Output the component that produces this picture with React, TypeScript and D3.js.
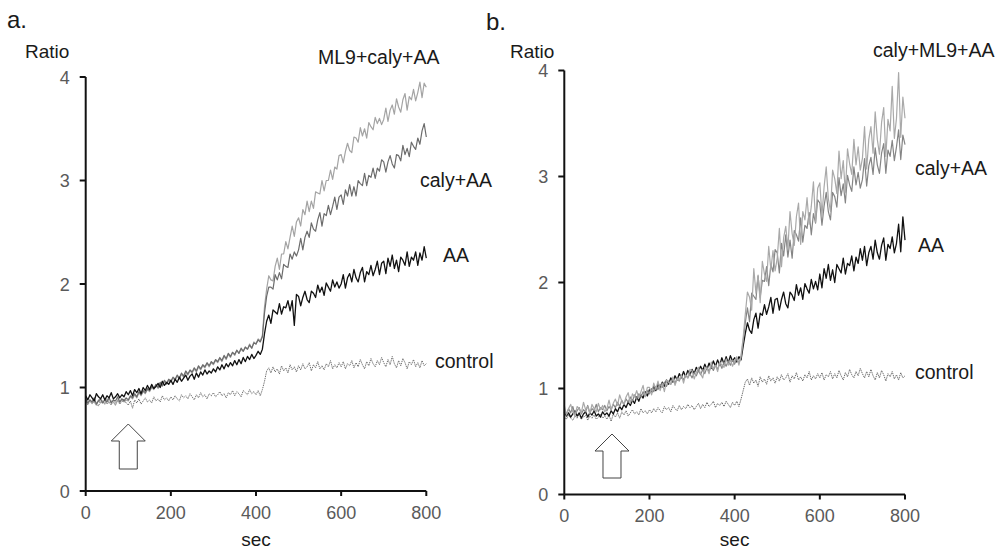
import React from 'react';
import * as d3 from 'd3';

// ---------- data (ratio sampled every 5 s, 0..800 s) ----------
const T_STEP = 5;
const xTicks = [0, 200, 400, 600, 800];
const yTicks = [0, 1, 2, 3, 4];

// Panel a
const aControl = [
  0.86, 0.83, 0.87, 0.84, 0.88, 0.85, 0.82, 0.87, 0.85, 0.89, 0.84, 0.86, 0.83, 0.88, 0.85, 0.87, 0.84, 0.86, 0.89, 0.85,
  0.83, 0.87, 0.80, 0.88, 0.85, 0.89, 0.84, 0.87, 0.90, 0.86, 0.88, 0.85, 0.91, 0.87, 0.89, 0.86, 0.92, 0.88, 0.90, 0.87,
  0.91, 0.88, 0.92, 0.89, 0.87, 0.93, 0.90, 0.92, 0.89, 0.94, 0.91, 0.88, 0.93, 0.90, 0.95, 0.91, 0.93, 0.89, 0.94, 0.92,
  0.95, 0.91, 0.93, 0.96, 0.92, 0.94, 0.90, 0.95, 0.93, 0.97, 0.92, 0.96, 0.94, 0.91, 0.97, 0.95, 0.93, 0.98, 0.94, 0.96,
  0.93, 0.97, 0.92, 0.98, 1.06, 1.16, 1.19, 1.14, 1.20, 1.15, 1.18, 1.13, 1.21, 1.16, 1.19, 1.14, 1.22, 1.17, 1.20, 1.15,
  1.21, 1.17, 1.23, 1.18, 1.20, 1.24, 1.16, 1.22, 1.19, 1.25, 1.18, 1.21, 1.17, 1.23, 1.20, 1.26, 1.18, 1.22, 1.19, 1.24,
  1.20, 1.25, 1.18, 1.23, 1.21, 1.26, 1.19, 1.24, 1.20, 1.27, 1.22, 1.18, 1.25, 1.21, 1.28, 1.23, 1.20, 1.26, 1.22, 1.29,
  1.24, 1.20, 1.27, 1.22, 1.30, 1.23, 1.19, 1.26, 1.21, 1.28, 1.24, 1.18, 1.25, 1.22, 1.27, 1.20, 1.24, 1.19, 1.26, 1.21,
  1.23,
];
const aAA = [
  0.92, 0.88, 0.93, 0.90, 0.87, 0.94, 0.91, 0.89, 0.93, 0.88, 0.92, 0.90, 0.95, 0.89, 0.91, 0.94, 0.90, 0.93, 0.91, 0.96,
  0.93, 0.97, 0.92, 0.98, 0.95, 0.99, 0.94, 1.00, 0.97, 1.02, 0.98, 1.03, 0.99, 1.01, 1.04, 1.00, 1.06, 1.02, 1.05, 1.03,
  1.07, 1.03, 1.08, 1.05, 1.10, 1.06, 1.09, 1.12, 1.07, 1.11, 1.13, 1.08, 1.14, 1.10, 1.15, 1.12, 1.17, 1.13, 1.16, 1.14,
  1.18, 1.15, 1.20, 1.17, 1.22, 1.18, 1.23, 1.20, 1.24, 1.21, 1.26, 1.22, 1.27, 1.23, 1.29, 1.25, 1.30, 1.27, 1.32, 1.28,
  1.31, 1.35, 1.32, 1.37, 1.52, 1.64, 1.70, 1.62, 1.75, 1.73, 1.71, 1.81, 1.71, 1.78, 1.77, 1.84, 1.74, 1.84, 1.60, 1.90,
  1.88, 1.79, 1.87, 1.93, 1.85, 1.82, 1.93, 1.91, 1.87, 1.99, 1.92, 1.97, 1.89, 2.01, 1.97, 1.93, 2.04, 1.97, 2.02, 1.96,
  2.00, 2.09, 1.96, 2.06, 2.10, 2.02, 2.14, 2.06, 2.02, 2.11, 2.16, 2.02, 2.12, 2.09, 2.18, 2.08, 2.14, 2.22, 2.09, 2.20,
  2.22, 2.10, 2.25, 2.17, 2.28, 2.15, 2.23, 2.12, 2.26, 2.23, 2.18, 2.31, 2.17, 2.26, 2.23, 2.31, 2.18, 2.30, 2.23, 2.36,
  2.25,
];
const aCalyAA = [
  0.89, 0.85, 0.88, 0.86, 0.90, 0.84, 0.87, 0.89, 0.85, 0.88, 0.86, 0.90, 0.85, 0.88, 0.87, 0.91, 0.86, 0.89, 0.87, 0.90,
  0.88, 0.92, 0.90, 0.94, 0.91, 0.96, 0.93, 0.97, 0.95, 0.99, 0.97, 1.01, 0.99, 1.03, 1.00, 1.05, 1.02, 1.07, 1.04, 1.08,
  1.06, 1.10, 1.08, 1.12, 1.09, 1.14, 1.11, 1.16, 1.13, 1.17, 1.15, 1.19, 1.16, 1.21, 1.18, 1.22, 1.20, 1.24, 1.21, 1.25,
  1.23, 1.27, 1.25, 1.29, 1.26, 1.31, 1.28, 1.33, 1.30, 1.34, 1.32, 1.36, 1.33, 1.38, 1.35, 1.39, 1.37, 1.41, 1.38, 1.43,
  1.42, 1.46, 1.44, 1.49, 1.72, 1.88, 1.97, 1.97, 1.95, 2.09, 2.04, 2.11, 2.05, 2.19, 2.17, 2.16, 2.29, 2.24, 2.31, 2.27,
  2.33, 2.44, 2.33, 2.45, 2.51, 2.45, 2.59, 2.53, 2.51, 2.62, 2.69, 2.56, 2.68, 2.66, 2.76, 2.67, 2.75, 2.84, 2.72, 2.84,
  2.86, 2.77, 2.91, 2.85, 2.96, 2.85, 2.94, 2.85, 3.00, 2.97, 2.95, 3.07, 2.95, 3.05, 3.03, 3.12, 3.02, 3.12, 3.09, 3.20,
  3.18, 3.08, 3.18, 3.24, 3.16, 3.12, 3.25, 3.24, 3.19, 3.34, 3.25, 3.31, 3.23, 3.37, 3.33, 3.30, 3.41, 3.35, 3.48, 3.55,
  3.42,
];
const aML9CalyAA = [
  0.87, 0.84, 0.88, 0.85, 0.86, 0.83, 0.88, 0.85, 0.87, 0.84, 0.89, 0.85, 0.87, 0.86, 0.83, 0.88, 0.85, 0.89, 0.86, 0.88,
  0.87, 0.91, 0.89, 0.93, 0.90, 0.95, 0.92, 0.96, 0.94, 0.98, 0.96, 1.00, 0.98, 1.02, 0.99, 1.04, 1.01, 1.06, 1.03, 1.07,
  1.05, 1.09, 1.07, 1.11, 1.08, 1.13, 1.10, 1.15, 1.12, 1.16, 1.14, 1.18, 1.15, 1.20, 1.17, 1.21, 1.19, 1.23, 1.20, 1.24,
  1.22, 1.26, 1.24, 1.28, 1.25, 1.30, 1.27, 1.32, 1.29, 1.34, 1.31, 1.36, 1.33, 1.37, 1.35, 1.39, 1.37, 1.42, 1.38, 1.44,
  1.42, 1.47, 1.45, 1.50, 1.78, 1.95, 2.08, 2.04, 2.03, 2.17, 2.25, 2.14, 2.29, 2.29, 2.41, 2.34, 2.45, 2.56, 2.46, 2.60,
  2.64, 2.56, 2.72, 2.67, 2.80, 2.70, 2.80, 2.73, 2.89, 2.88, 2.87, 3.00, 2.90, 3.00, 3.00, 3.10, 3.01, 3.13, 3.11, 3.24,
  3.25, 3.17, 3.28, 3.36, 3.29, 3.27, 3.42, 3.41, 3.37, 3.51, 3.43, 3.50, 3.41, 3.56, 3.52, 3.49, 3.61, 3.55, 3.60, 3.54,
  3.59, 3.70, 3.57, 3.68, 3.73, 3.64, 3.79, 3.71, 3.66, 3.78, 3.84, 3.68, 3.81, 3.78, 3.88, 3.77, 3.85, 3.95, 3.80, 3.94,
  3.90,
];

// Panel b
const bControl = [
  0.74, 0.71, 0.75, 0.72, 0.70, 0.74, 0.72, 0.76, 0.71, 0.73, 0.75, 0.70, 0.74, 0.72, 0.75, 0.71, 0.73, 0.76, 0.72, 0.74,
  0.71, 0.75, 0.69, 0.76, 0.73, 0.77, 0.72, 0.78, 0.75, 0.79, 0.74, 0.77, 0.80, 0.76, 0.78, 0.75, 0.81, 0.77, 0.79, 0.76,
  0.80, 0.77, 0.81, 0.78, 0.82, 0.79, 0.77, 0.83, 0.80, 0.82, 0.78, 0.84, 0.81, 0.79, 0.84, 0.80, 0.83, 0.81, 0.85, 0.82,
  0.84, 0.80, 0.83, 0.86, 0.81, 0.85, 0.82, 0.87, 0.83, 0.85, 0.88, 0.82, 0.86, 0.84, 0.87, 0.83, 0.88, 0.85, 0.82, 0.87,
  0.84, 0.88, 0.83, 0.90, 0.98, 1.06, 1.09, 1.03, 1.10, 1.05, 1.08, 1.02, 1.11, 1.06, 1.09, 1.04, 1.12, 1.07, 1.10, 1.05,
  1.11, 1.07, 1.13, 1.08, 1.10, 1.14, 1.06, 1.12, 1.09, 1.15, 1.08, 1.11, 1.07, 1.13, 1.10, 1.16, 1.08, 1.12, 1.09, 1.14,
  1.10, 1.15, 1.08, 1.13, 1.11, 1.16, 1.09, 1.14, 1.10, 1.17, 1.12, 1.08, 1.15, 1.11, 1.18, 1.13, 1.10, 1.16, 1.12, 1.19,
  1.14, 1.10, 1.16, 1.11, 1.18, 1.12, 1.08, 1.15, 1.10, 1.17, 1.13, 1.07, 1.14, 1.11, 1.16, 1.09, 1.13, 1.08, 1.15, 1.10,
  1.12,
];
const bAA = [
  0.78, 0.74, 0.77, 0.73, 0.76, 0.79, 0.74, 0.77, 0.72, 0.76, 0.78, 0.73, 0.77, 0.75, 0.79, 0.74, 0.76, 0.73, 0.78, 0.75,
  0.77, 0.74, 0.79, 0.76, 0.81, 0.78, 0.83, 0.80, 0.85, 0.82, 0.87, 0.84, 0.89, 0.86, 0.92, 0.88, 0.94, 0.91, 0.97, 0.93,
  0.99, 0.96, 1.02, 0.98, 1.04, 1.00, 1.06, 1.02, 1.08, 1.04, 1.10, 1.06, 1.12, 1.08, 1.14, 1.10, 1.16, 1.11, 1.17, 1.13,
  1.18, 1.14, 1.20, 1.16, 1.21, 1.17, 1.23, 1.18, 1.24, 1.19, 1.26, 1.21, 1.27, 1.22, 1.29, 1.23, 1.30, 1.24, 1.31, 1.26,
  1.29, 1.25, 1.30, 1.27, 1.40, 1.52, 1.62, 1.55, 1.52, 1.65, 1.71, 1.57, 1.71, 1.69, 1.79, 1.70, 1.77, 1.86, 1.71, 1.84,
  1.85, 1.74, 1.84, 1.91, 1.80, 1.76, 1.91, 1.88, 1.83, 1.98, 1.88, 1.95, 1.84, 1.99, 1.94, 1.90, 2.03, 1.94, 2.01, 1.93,
  2.08, 1.95, 2.13, 2.04, 2.17, 2.02, 2.12, 2.00, 2.17, 2.13, 2.09, 2.23, 2.08, 2.18, 2.16, 2.25, 2.11, 2.24, 2.18, 2.32,
  2.21, 2.34, 2.16, 2.28, 2.34, 2.22, 2.40, 2.28, 2.22, 2.35, 2.42, 2.21, 2.36, 2.32, 2.43, 2.28, 2.37, 2.55, 2.29, 2.62,
  2.40,
];
const bCalyAA = [
  0.80, 0.76, 0.81, 0.77, 0.83, 0.75, 0.79, 0.82, 0.76, 0.80, 0.78, 0.84, 0.77, 0.81, 0.79, 0.85, 0.78, 0.82, 0.80, 0.84,
  0.79, 0.83, 0.80, 0.85, 0.82, 0.87, 0.83, 0.89, 0.85, 0.90, 0.87, 0.92, 0.88, 0.94, 0.90, 0.95, 0.92, 0.97, 0.93, 0.98,
  0.95, 1.00, 0.97, 1.02, 0.99, 1.04, 1.01, 1.06, 1.02, 1.07, 1.04, 1.09, 1.05, 1.10, 1.07, 1.12, 1.08, 1.13, 1.10, 1.14,
  1.10, 1.15, 1.12, 1.17, 1.13, 1.18, 1.14, 1.20, 1.16, 1.21, 1.17, 1.22, 1.18, 1.24, 1.19, 1.25, 1.21, 1.26, 1.22, 1.27,
  1.23, 1.28, 1.24, 1.29, 1.45, 1.62, 1.76, 1.63, 1.90, 1.87, 1.84, 2.06, 1.86, 2.02, 2.01, 2.15, 1.97, 2.17, 2.10, 2.31,
  2.28, 2.09, 2.37, 2.25, 2.45, 2.24, 2.40, 2.23, 2.49, 2.45, 2.39, 2.61, 2.38, 2.54, 2.51, 2.66, 2.45, 2.65, 2.56, 2.78,
  2.75, 2.54, 2.72, 2.85, 2.67, 2.59, 2.85, 2.81, 2.71, 2.99, 2.82, 2.93, 2.75, 3.01, 2.92, 2.86, 3.09, 2.92, 3.04, 2.89,
  2.97, 3.17, 2.91, 3.10, 3.18, 3.02, 3.27, 3.11, 3.03, 3.22, 3.31, 3.03, 3.25, 3.19, 3.34, 3.15, 3.28, 3.44, 3.16, 3.39,
  3.30,
];
const bCalyML9AA = [
  0.84, 0.75, 0.81, 0.85, 0.78, 0.74, 0.83, 0.81, 0.77, 0.87, 0.80, 0.83, 0.76, 0.85, 0.81, 0.78, 0.86, 0.80, 0.84, 0.78,
  0.81, 0.89, 0.80, 0.86, 0.90, 0.84, 0.94, 0.88, 0.85, 0.92, 0.96, 0.86, 0.95, 0.92, 0.98, 0.91, 0.97, 1.03, 0.92, 1.01,
  1.01, 0.94, 1.05, 0.99, 1.07, 0.98, 1.05, 0.97, 1.08, 1.06, 1.04, 1.11, 1.03, 1.09, 1.08, 1.13, 1.05, 1.13, 1.10, 1.18,
  1.17, 1.09, 1.15, 1.20, 1.14, 1.10, 1.20, 1.19, 1.14, 1.25, 1.19, 1.22, 1.16, 1.25, 1.22, 1.20, 1.28, 1.22, 1.27, 1.21,
  1.26, 1.30, 1.22, 1.31, 1.48, 1.70, 1.91, 1.86, 1.74, 2.13, 1.90, 2.07, 1.81, 2.20, 2.08, 2.01, 2.34, 2.12, 2.30, 2.11,
  2.23, 2.51, 2.15, 2.42, 2.53, 2.32, 2.67, 2.46, 2.35, 2.62, 2.75, 2.36, 2.67, 2.59, 2.80, 2.55, 2.72, 2.95, 2.57, 2.89,
  2.94, 2.63, 2.90, 3.09, 2.79, 2.67, 3.06, 2.98, 2.84, 3.24, 2.98, 3.15, 2.85, 3.26, 3.12, 3.02, 3.35, 3.11, 3.28, 3.06,
  3.17, 3.47, 3.07, 3.35, 3.47, 3.22, 3.61, 3.35, 3.21, 3.51, 3.65, 3.19, 3.54, 3.43, 3.85, 3.36, 3.55, 3.98, 3.37, 3.75,
  3.55,
];

// time of the stimulus arrow (s)
const arrowTimeA = 100;
const arrowTimeB = 112;

const FONT = "'Liberation Sans', Arial, Helvetica, sans-serif";

type Series = { values: number[]; color: string; width: number; dash?: string };
type Label = { text: string; x: number; y: number };
type PanelCfg = {
  letter: string;
  letterX: number;
  letterY: number;
  ratioX: number;
  ratioY: number;
  x0: number; x1: number; y0: number; y1: number;
  xLabelY: number;
  secY: number;
  series: Series[];
  labels: Label[];
  arrowTime: number;
  arrowTip: number; arrowBase: number; arrowBottom: number;
};

const panels: PanelCfg[] = [
  {
    letter: 'a.', letterX: 7, letterY: 28, ratioX: 25, ratioY: 58,
    x0: 85.7, x1: 426.3, y0: 491, y1: 77,
    xLabelY: 519, secY: 546,
    series: [
      { values: aControl, color: '#6f6f6f', width: 1, dash: '1.4,0.9' },
      { values: aML9CalyAA, color: '#a4a4a4', width: 1.2 },
      { values: aCalyAA, color: '#6c6c6c', width: 1.2 },
      { values: aAA, color: '#111111', width: 1.3 },
    ],
    labels: [
      { text: 'ML9+caly+AA', x: 318, y: 64 },
      { text: 'caly+AA', x: 420, y: 187 },
      { text: 'AA', x: 443, y: 262 },
      { text: 'control', x: 435, y: 368 },
    ],
    arrowTime: arrowTimeA, arrowTip: 424, arrowBase: 441, arrowBottom: 469,
  },
  {
    letter: 'b.', letterX: 486, letterY: 30, ratioX: 510, ratioY: 58,
    x0: 564.3, x1: 905, y0: 494.5, y1: 70.5,
    xLabelY: 522, secY: 546,
    series: [
      { values: bControl, color: '#6a6a6a', width: 1, dash: '1.4,0.9' },
      { values: bAA, color: '#111111', width: 1.3 },
      { values: bCalyAA, color: '#858585', width: 1.2 },
      { values: bCalyML9AA, color: '#a9a9a9', width: 1.2 },
    ],
    labels: [
      { text: 'caly+ML9+AA', x: 873, y: 57 },
      { text: 'caly+AA', x: 915, y: 175 },
      { text: 'AA', x: 918, y: 252 },
      { text: 'control', x: 915, y: 379 },
    ],
    arrowTime: arrowTimeB, arrowTip: 434, arrowBase: 451, arrowBottom: 478,
  },
];

function Panel({ cfg }: { cfg: PanelCfg }) {
  const x = d3.scaleLinear().domain([0, 800]).range([cfg.x0, cfg.x1]);
  const y = d3.scaleLinear().domain([0, 4]).range([cfg.y0, cfg.y1]);
  const line = d3
    .line<number>()
    .x((_, i) => x(i * T_STEP))
    .y((d) => y(d));

  const ax = x(cfg.arrowTime);
  const arrowPts = [
    [ax, cfg.arrowTip],
    [ax + 17, cfg.arrowBase],
    [ax + 9, cfg.arrowBase],
    [ax + 9, cfg.arrowBottom],
    [ax - 9, cfg.arrowBottom],
    [ax - 9, cfg.arrowBase],
    [ax - 17, cfg.arrowBase],
  ]
    .map((p) => p.join(','))
    .join(' ');

  return (
    <g>
      <text x={cfg.letterX} y={cfg.letterY} fontSize={24} fill="#1a1a1a" fontFamily={FONT}>
        {cfg.letter}
      </text>
      <text x={cfg.ratioX} y={cfg.ratioY} fontSize={19} fill="#1a1a1a" fontFamily={FONT}>
        Ratio
      </text>

      {cfg.series.map((s, i) => (
        <path
          key={i}
          d={line(s.values) || ''}
          fill="none"
          stroke={s.color}
          strokeWidth={s.width}
          strokeDasharray={s.dash}
          strokeLinejoin="round"
        />
      ))}

      {/* axes */}
      <line x1={cfg.x0} x2={cfg.x0} y1={y(4)} y2={y(0)} stroke="#111" strokeWidth={2} />
      <line x1={cfg.x0} x2={cfg.x1} y1={y(0)} y2={y(0)} stroke="#111" strokeWidth={2} />
      {yTicks.map((t) => (
        <g key={'y' + t}>
          <line x1={cfg.x0 - 6} x2={cfg.x0} y1={y(t)} y2={y(t)} stroke="#111" strokeWidth={2} />
          <text
            x={cfg.x0 - 16}
            y={y(t) + 6.5}
            textAnchor="end"
            fontSize={18}
            fill="#5a5a5a"
            fontFamily={FONT}
          >
            {t}
          </text>
        </g>
      ))}
      {xTicks.map((t) => (
        <g key={'x' + t}>
          <line x1={x(t)} x2={x(t)} y1={y(0)} y2={y(0) + 5} stroke="#111" strokeWidth={2} />
          <text x={x(t)} y={cfg.xLabelY} textAnchor="middle" fontSize={18} fill="#5a5a5a" fontFamily={FONT}>
            {t}
          </text>
        </g>
      ))}
      <text x={x(400)} y={cfg.secY} textAnchor="middle" fontSize={19} fill="#1a1a1a" fontFamily={FONT}>
        sec
      </text>

      {cfg.labels.map((l) => (
        <text key={l.text} x={l.x} y={l.y} fontSize={19.5} fill="#1a1a1a" fontFamily={FONT}>
          {l.text}
        </text>
      ))}

      <polygon points={arrowPts} fill="#fff" stroke="#444" strokeWidth={1} />
    </g>
  );
}

export default function App() {
  return (
    <svg
      width={1004}
      height={551}
      viewBox="0 0 1004 551"
      style={{ position: 'absolute', left: 0, top: 0, background: '#fff' }}
    >
      <rect x={0} y={0} width={1004} height={551} fill="#fff" />
      {panels.map((p) => (
        <Panel key={p.letter} cfg={p} />
      ))}
    </svg>
  );
}
